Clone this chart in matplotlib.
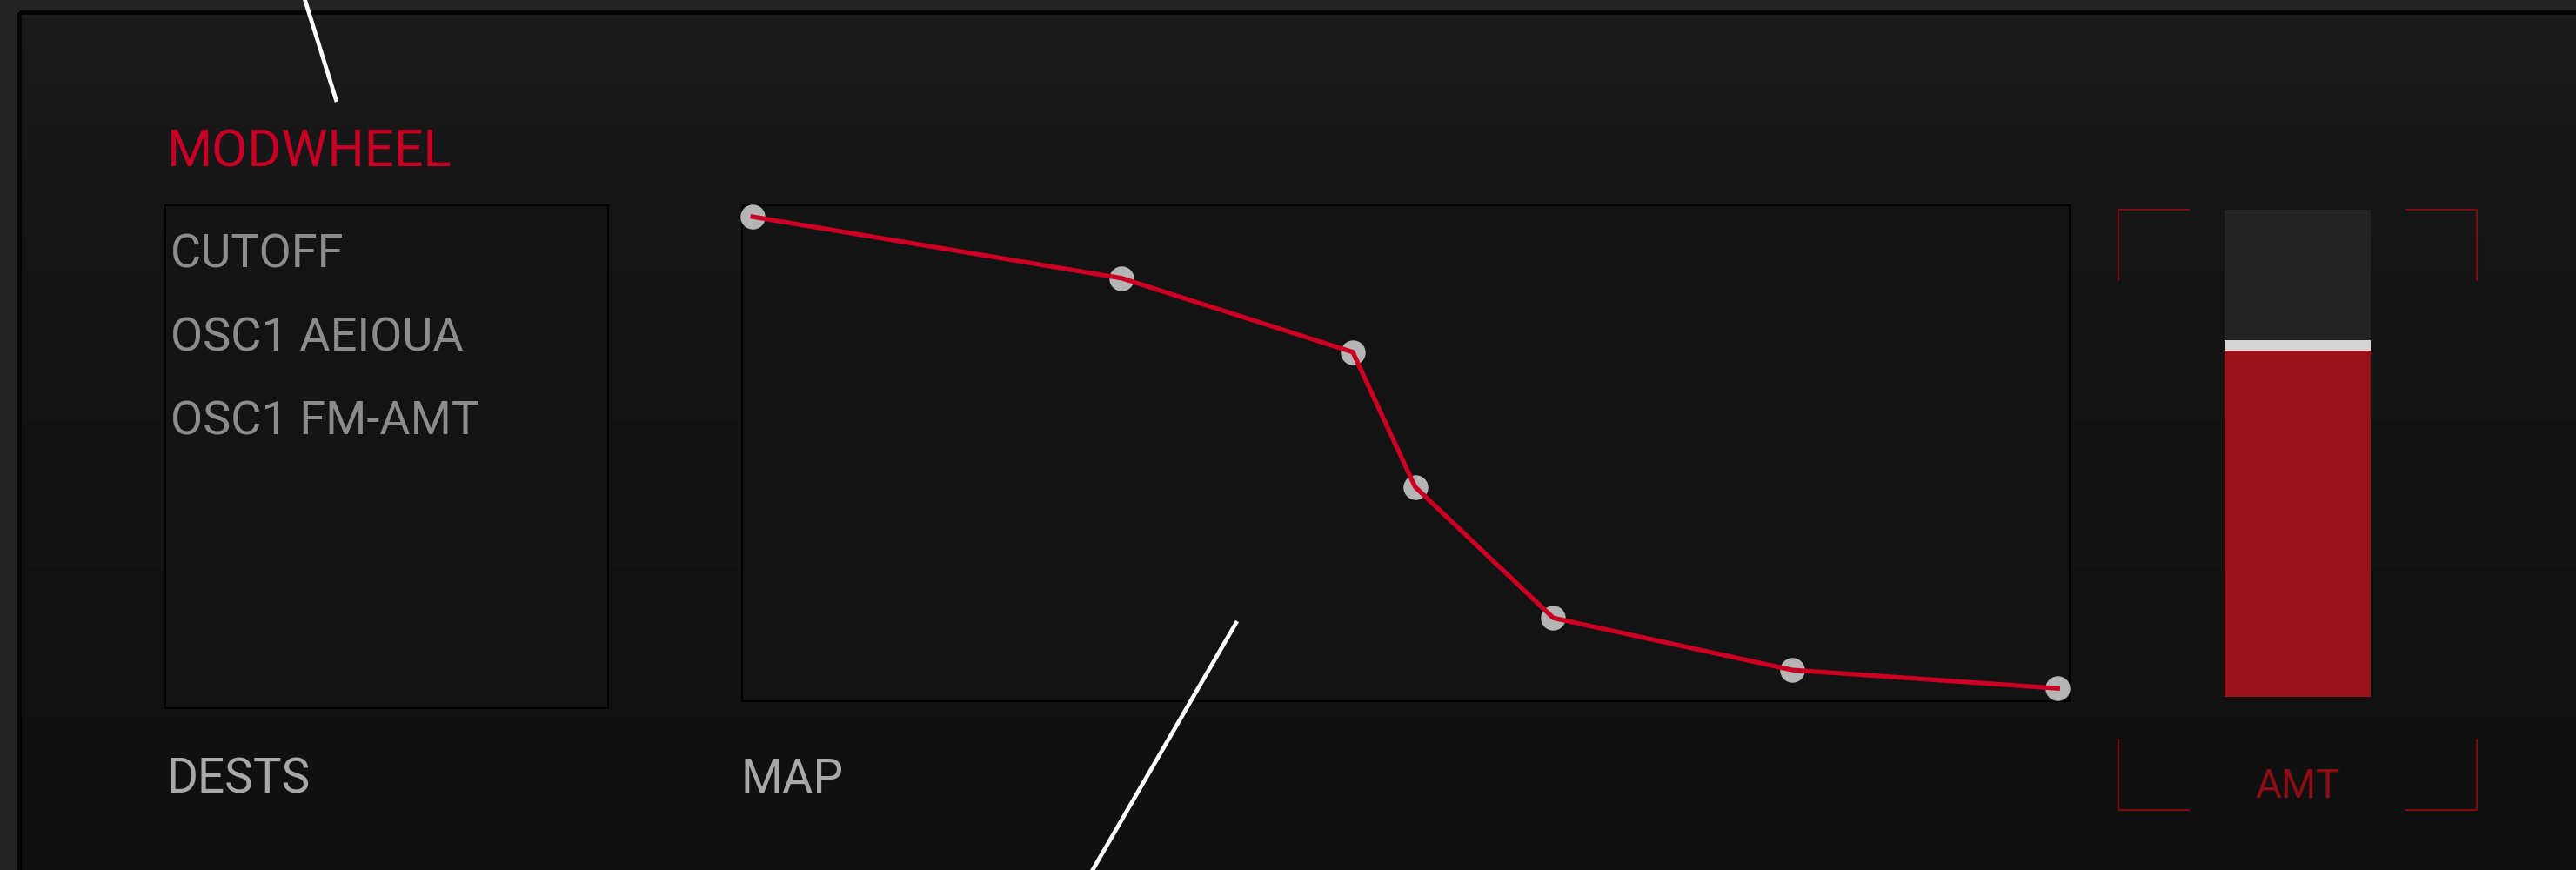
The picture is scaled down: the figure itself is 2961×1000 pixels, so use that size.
import numpy as np
import matplotlib
matplotlib.use("Agg")
import matplotlib.pyplot as plt
from matplotlib.patches import Rectangle

# ---------------- data ----------------
title_label = "MODWHEEL"
dest_items = ["CUTOFF", "OSC1 AEIOUA", "OSC1 FM-AMT"]
dests_label = "DESTS"
map_label = "MAP"
amt_label = "AMT"
map_x = [0.008, 0.286, 0.460, 0.507, 0.611, 0.791, 0.991]
map_y = [0.977, 0.853, 0.704, 0.432, 0.168, 0.063, 0.026]
amt_value = 0.711

# ---------------- figure ----------------
W, H = 2961, 1000
DPI = 100
FONT = ["Roboto", "DejaVu Sans"]
plt.rcParams["font.family"] = FONT

fig = plt.figure(figsize=(W / DPI, H / DPI), dpi=DPI)
fig.patch.set_facecolor("#232323")


def px_axes(x0, y0, x1, y1, **kw):
    return fig.add_axes([x0 / W, 1 - y1 / H, (x1 - x0) / W, (y1 - y0) / H], **kw)


bg = fig.add_axes([0, 0, 1, 1], zorder=0)
bg.set_xlim(0, W)
bg.set_ylim(H, 0)
bg.axis("off")

# panel with gradient
t = np.linspace(0, 1, 200)
g = np.where(t < 0.3, 0x1b + (0x14 - 0x1b) * (t / 0.3),
             0x14 + (0x10 - 0x14) * ((t - 0.3) / 0.7)) / 255.0
img = np.stack([g, g, g], axis=-1)[:, None, :]
bg.imshow(img, extent=(22, W, H, 14), aspect="auto", zorder=0, interpolation="bilinear")
bg.add_patch(Rectangle((22, 14), W, H, fill=False, edgecolor="#050505", lw=3.6, zorder=1))

# labels
bg.text(191, 191, title_label, color="#c70024", fontsize=43, va="baseline", ha="left")
for i, item in enumerate(dest_items):
    bg.text(196, 307 + 96 * i, item, color="#8c8c8c", fontsize=39, va="baseline", ha="left")
bg.text(192, 912, dests_label, color="#a8a8a8", fontsize=39.5, va="baseline", ha="left")
bg.text(852, 912, map_label, color="#a8a8a8", fontsize=39.5, va="baseline", ha="left")
bg.text(2641, 917, amt_label, color="#8b0d16", fontsize=33, va="baseline", ha="center")

# dests box
bg.add_patch(Rectangle((190, 236), 509, 578, facecolor="#131313", edgecolor="#000000",
                       lw=1.4, zorder=0.5))

# brackets
bc = "#7a0a14"
blw = 1.5
L = 82
xl, xr, yt, yb = 2435, 2847, 241, 931
for (x, y, dx, dy) in [(xl, yt, 1, 1), (xr, yt, -1, 1), (xl, yb, 1, -1), (xr, yb, -1, -1)]:
    bg.plot([x + dx * L, x, x], [y, y, y + dy * L], color=bc, lw=blw, solid_capstyle="butt", zorder=2)

# ---------------- map chart ----------------
ax = px_axes(853, 236, 2379, 806, zorder=2)
ax.set_facecolor("#131313")
ax.set_xlim(0, 1)
ax.set_ylim(0, 1)
ax.set_xticks([])
ax.set_yticks([])
for s in ax.spines.values():
    s.set_color("#000000")
    s.set_linewidth(1.5)
ax.plot(map_x, map_y, linestyle="none", marker="o", markersize=20.5,
        markerfacecolor="#b5b5b5", markeredgewidth=0, clip_on=False, zorder=3)
ax.plot(map_x, map_y, color="#cc0022", lw=3.8, clip_on=False, zorder=4,
        solid_joinstyle="round")

# ---------------- amount bar ----------------
bx = px_axes(2557, 241, 2725, 801, zorder=2)
bx.set_xlim(-0.5, 0.5)
bx.set_ylim(0, 1)
bx.axis("off")
bx.add_patch(Rectangle((-0.5, 0), 1, 1, facecolor="#232323", edgecolor="none", zorder=0))
bx.bar([0], [amt_value], width=1.0, color="#9b1118", zorder=2)
bx.bar([0], [0.021], bottom=[amt_value], width=1.0, color="#d4d4d4", zorder=3)

# ---------------- overlay leader lines ----------------
ov = fig.add_axes([0, 0, 1, 1], zorder=10)
ov.set_xlim(0, W)
ov.set_ylim(H, 0)
ov.axis("off")
ov.patch.set_alpha(0)
ov.plot([349, 387], [-5, 117], color="white", lw=3.4, solid_capstyle="butt")
ov.plot([1422, 1253], [714, 1005], color="white", lw=3.4, solid_capstyle="butt")

fig.savefig("out.png", dpi=DPI, facecolor=fig.get_facecolor())
